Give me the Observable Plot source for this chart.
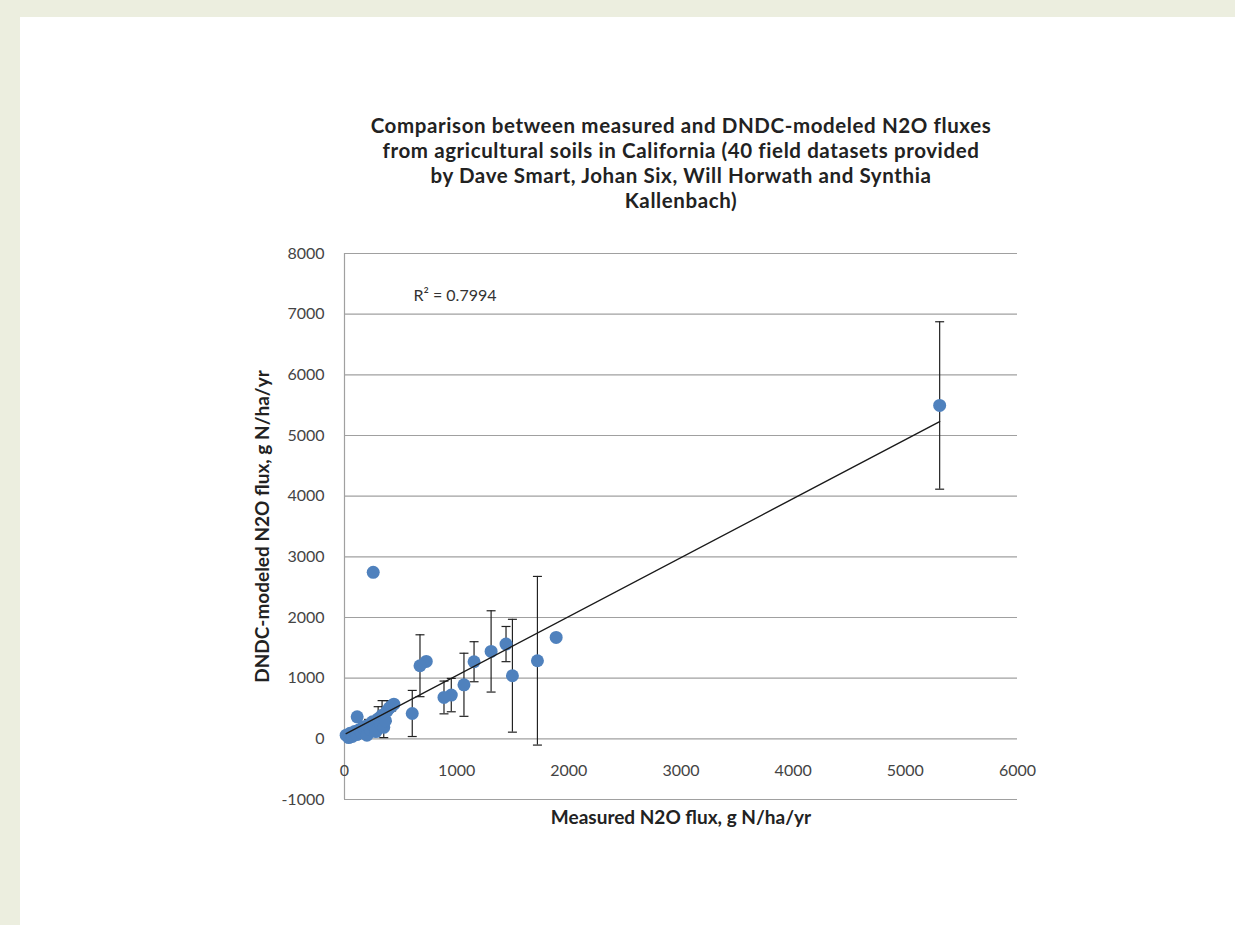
<!DOCTYPE html>
<html><head><meta charset="utf-8">
<script src="https://cdn.jsdelivr.net/npm/d3@7"></script>
<script src="https://cdn.jsdelivr.net/npm/@observablehq/plot@0.6"></script>
<style>
html,body{margin:0;padding:0;background:#ECEEDF;width:1235px;height:925px;overflow:hidden;}
#panel{position:absolute;left:20px;top:17px;width:1215px;height:908px;background:#fff;}
#title{position:absolute;left:211px;top:96px;width:900px;text-align:center;font-family:Lato,"Open Sans",sans-serif;font-weight:bold;font-size:20.5px;letter-spacing:0.6px;line-height:25px;color:#222;}
#chart{position:absolute;left:0;top:198px;}
</style>
</head><body>
<div id="panel">
  <div id="title"></div>
  <div id="chart"></div>
</div>
<script>
const titleLines = [
  "Comparison between measured and DNDC-modeled N2O fluxes",
  "from agricultural soils in California (40 field datasets provided",
  "by Dave Smart, Johan Six, Will Horwath and Synthia",
  "Kallenbach)"
];
const xLabel = "Measured N2O flux, g N/ha/yr";
const yLabel = "DNDC-modeled N2O flux, g N/ha/yr";
const r2Label = "R\u00B2 = 0.7994";
const xTicks = [0, 1000, 2000, 3000, 4000, 5000, 6000];
const yTicks = [-1000, 0, 1000, 2000, 3000, 4000, 5000, 6000, 7000, 8000];

// measured (x), modeled (y), modeled error (+/-)
const measured = [5306, 256, 1887, 1720, 1497, 1440, 1307, 1155, 1065, 952, 887, 729, 673, 604, 440, 113,
  15, 38, 50, 70, 90, 110, 130, 150, 170, 185, 200, 215, 230, 250, 265, 280, 300, 320, 335, 350, 365, 380, 400, 420];
const modeled = [5495, 2745, 1672, 1287, 1040, 1562, 1441, 1271, 891, 721, 682, 1276, 1205, 418, 572, 363,
  60, 20, 90, 40, 120, 70, 150, 100, 200, 130, 60, 230, 150, 280, 200, 120, 330, 250, 390, 190, 300, 460, 510, 540];
const modeledErr = [1380, 0, 0, 1390, 930, 290, 670, 330, 520, 275, 270, 0, 510, 380, 0, 0,
  0, 0, 0, 0, 0, 0, 0, 40, 0, 60, 0, 90, 0, 0, 100, 0, 200, 80, 240, 170, 0, 170, 0, 80];

const trendSlope = 0.972;
const trendIntercept = 72;

document.getElementById("title").innerHTML = titleLines.map(s => `<div>${s}</div>`).join("");

const data = measured.map((x, i) => ({x, y: modeled[i], e: modeledErr[i]}));
const withErr = data.filter(d => d.e > 0);
const xMin = d3.min(measured), xMax = d3.max(measured);
const trend = [xMin, xMax].map(x => ({x, y: trendIntercept + trendSlope * x}));

const capSymbol = {draw(ctx, size) { const w = 4.5; ctx.moveTo(-w, 0); ctx.lineTo(w, 0); }};
const font = 'Lato, "Open Sans", sans-serif';

const plot = Plot.plot({
  width: 1215,
  height: 660,
  marginLeft: 324,
  marginRight: 218,
  marginTop: 38,
  marginBottom: 76,
  style: {fontFamily: font, background: "transparent", overflow: "visible"},
  x: {domain: [0, 6000]},
  y: {domain: [-1000, 8000]},
  marks: [
    Plot.ruleY(yTicks, {stroke: "#a0a0a0", strokeWidth: 1.2}),
    Plot.ruleX([0], {stroke: "#a0a0a0", strokeWidth: 1.2}),
    Plot.axisY({ticks: yTicks, tickSize: 0, tickPadding: 20, tickFormat: d => String(d), label: null, fontSize: 16, fill: "#444"}),
    Plot.axisX({ticks: [], label: null, tickSize: 0}),
    Plot.text(xTicks, {x: d => d, y: 0, dy: 32, text: d => String(d), fontSize: 16, fill: "#444"}),
    Plot.ruleX(withErr, {x: "x", y1: d => d.y - d.e, y2: d => d.y + d.e, stroke: "#222", strokeWidth: 1.2}),
    Plot.dot(withErr, {x: "x", y: d => d.y + d.e, symbol: capSymbol, stroke: "#222", strokeWidth: 1.2, fill: "none"}),
    Plot.dot(withErr, {x: "x", y: d => d.y - d.e, symbol: capSymbol, stroke: "#222", strokeWidth: 1.2, fill: "none"}),
    Plot.dot(data, {x: "x", y: "y", r: 6.5, fill: "#4F81BD", stroke: "none"}),
    Plot.line(trend, {x: "x", y: "y", stroke: "#1a1a1a", strokeWidth: 1.4}),
    Plot.text([r2Label], {frameAnchor: "top-left", dx: 69, dy: 36, fontSize: 16, fill: "#333", textAnchor: "start"}),
    Plot.text([xLabel], {frameAnchor: "bottom", dy: 18, lineAnchor: "middle", textAnchor: "middle", fontSize: 19, fontWeight: "bold", fill: "#222"}),
    Plot.text([yLabel], {frameAnchor: "left", dx: -82, rotate: -90, textAnchor: "middle", lineAnchor: "middle", fontSize: 19, fontWeight: "bold", fill: "#222"})
  ]
});
document.getElementById("chart").appendChild(plot);
</script>
</body></html>
